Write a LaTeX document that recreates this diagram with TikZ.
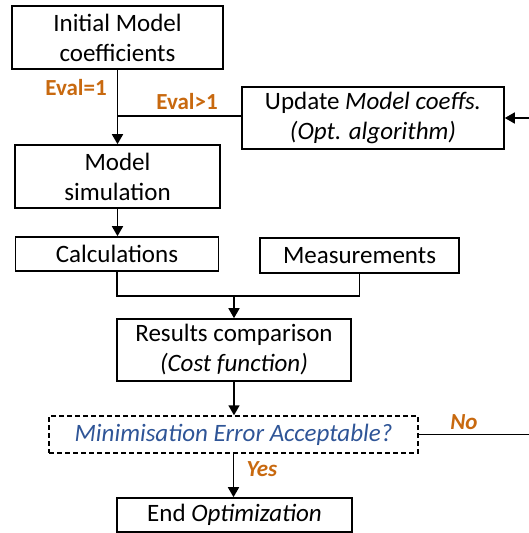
\documentclass[tikz,border=0pt]{standalone}
\usepackage{fontspec}
\setmainfont{Carlito}
\usetikzlibrary{arrows.meta}
\definecolor{lblorange}{HTML}{C8690F}
\definecolor{qblue}{HTML}{2F5597}
\begin{document}
\begin{tikzpicture}[x=1pt,y=-1pt,
  every node/.style={font=\fontsize{25}{30}\selectfont},
  box/.style={draw, line width=1.6pt, inner sep=0pt, align=center},
  flow/.style={line width=1.6pt, -{Triangle[length=10pt,width=11pt]}},
  link/.style={line width=1.6pt},
  lbl/.style={text=lblorange, font=\fontsize{23}{26}\selectfont\bfseries},
  lbli/.style={lbl, font=\fontsize{23}{26}\selectfont\bfseries\itshape}]
\clip (0,0) rectangle (529,533);
\useasboundingbox (0,0) rectangle (529,533);

% process boxes
\node[box, minimum width=211pt, minimum height=63pt] (init) at (117.5,37.5) {Initial Model\\coefficients};
\node[box, minimum width=262pt, minimum height=62pt] (update) at (373,118) {Update \textit{Model coeffs.}\\\textit{(Opt. algorithm)}};
\node[box, minimum width=205pt, minimum height=63pt] (sim) at (117.5,176.5) {Model\\simulation};
\node[box, minimum width=203pt, minimum height=34pt] (calc) at (117,254) {Calculations};
\node[box, minimum width=199pt, minimum height=35pt] (meas) at (359.5,255.5) {Measurements};
\node[box, minimum width=234pt, minimum height=62pt] (cmp) at (234,350) {Results comparison\\\textit{(Cost function)}};
\node[box, dashed, dash pattern=on 5pt off 3pt, line width=1.4pt, minimum width=369pt, minimum height=37pt, text=qblue] (check) at (233.5,434.5) {\textit{Minimisation Error Acceptable?}};
\node[box, minimum width=235pt, minimum height=34pt] (done) at (234.5,515) {End \textit{Optimization}};

% junction points
\coordinate (merge) at (117.5,116);
\coordinate (join) at (234,296);
\coordinate (loop) at (540,434.5);

% connectors
\draw[flow] (init.south) -- (sim.north);
\draw[link] (update.west |- merge) -- (merge);
\draw[flow] (sim.south) -- (sim.south |- calc.north);
\draw[link] (calc.south) |- (join) -| (meas.south);
\draw[flow] (join) -- (cmp.north);
\draw[flow] (cmp.south) -- (cmp.south |- check.north);
\draw[flow] (check.south) -- (check.south |- done.north);
\draw[flow] (check.east) -- (loop) |- (update.east);

% branch labels
\node[lbl] (e1) at (76,88) {Eval=1};
\node[lbl] (e2) at (187,102) {Eval>1};
\node[lbli] (no) at (464,422) {No};
\node[lbli] (yes) at (262,469) {Yes};
\end{tikzpicture}
\end{document}
